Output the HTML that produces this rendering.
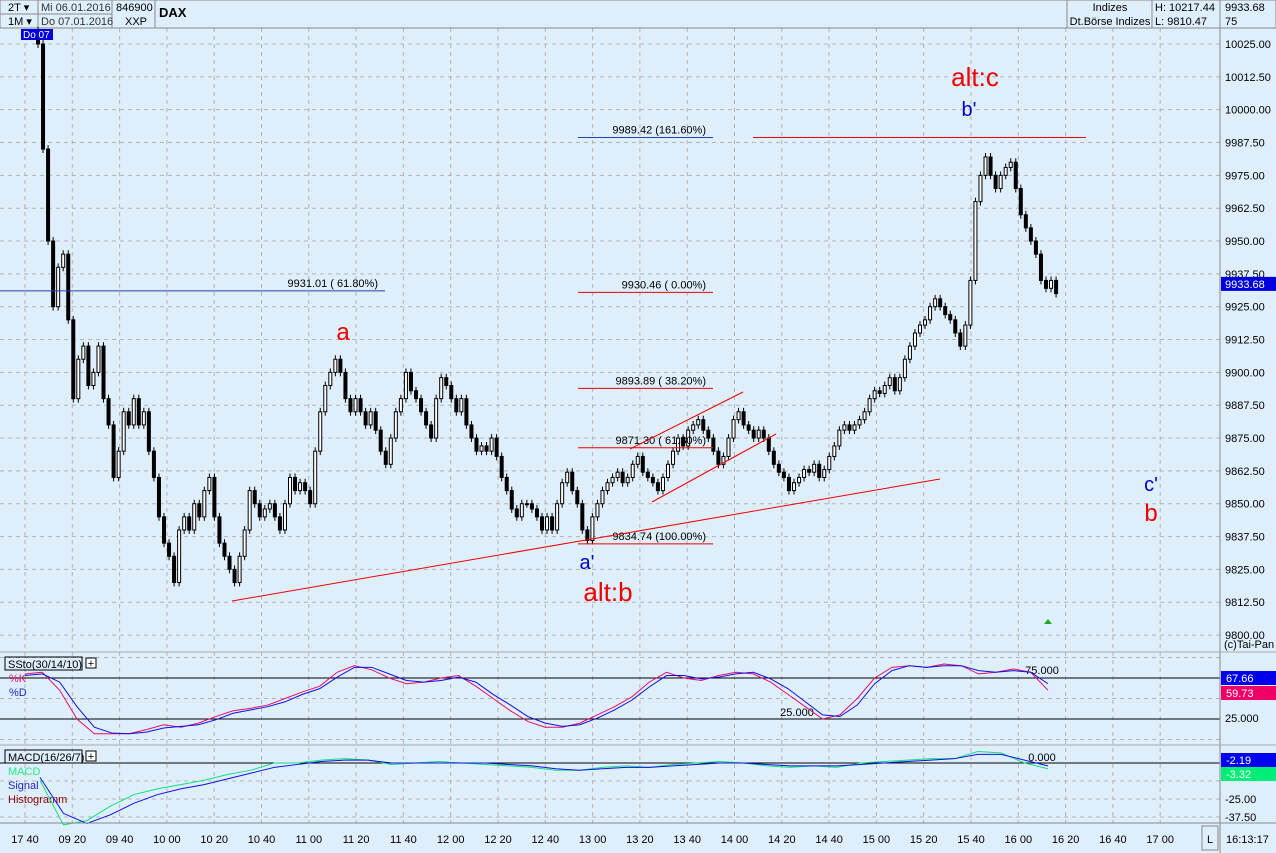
<!DOCTYPE html>
<html><head><meta charset="utf-8">
<style>
body{margin:0;width:1276px;height:853px;overflow:hidden;background:#dfeefb;font-family:"Liberation Sans",sans-serif;}
svg{position:absolute;left:0;top:0}
</style></head>
<body>
<svg id="chart" width="1276" height="853" font-family="Liberation Sans, sans-serif">
<rect x="0" y="0" width="1276" height="853" fill="#dfeefb"/>
<g id="grid"></g>
<g id="header">
 <rect x="0" y="0" width="1276" height="28" fill="#dfeefb" stroke="#888"/>
 <line x1="0" y1="14" x2="112" y2="14" stroke="#888"/>
 <line x1="38" y1="0" x2="38" y2="28" stroke="#888"/>
 <line x1="112" y1="0" x2="112" y2="28" stroke="#888"/>
 <line x1="155" y1="0" x2="155" y2="28" stroke="#888"/>
 <line x1="1067" y1="0" x2="1067" y2="28" stroke="#888"/>
 <line x1="1152" y1="0" x2="1152" y2="28" stroke="#888"/>
 <line x1="1220" y1="0" x2="1220" y2="28" stroke="#888"/>
 <text x="8" y="11" font-size="11">2T ▾</text>
 <text x="8" y="25" font-size="11">1M ▾</text>
 <text x="41" y="11" font-size="11" fill="#333">Mi 06.01.2016</text>
 <text x="41" y="25" font-size="11" fill="#333">Do 07.01.2016</text>
 <text x="116" y="11" font-size="11">846900</text>
 <text x="125" y="25" font-size="11">XXP</text>
 <text x="159" y="17" font-size="13" font-weight="bold">DAX</text>
 <text x="1110" y="11" font-size="11" text-anchor="middle">Indizes</text>
 <text x="1110" y="25" font-size="11" text-anchor="middle">Dt.Börse Indizes</text>
 <text x="1155" y="11" font-size="11">H: 10217.44</text>
 <text x="1155" y="25" font-size="11">L: 9810.47</text>
 <text x="1225" y="11" font-size="11">9933.68</text>
 <text x="1225" y="25" font-size="11">75</text>
</g>
<g id="price"></g>
<g id="annot"></g>
<g id="stoch"></g>
<g id="macd"></g>
<g id="axes"></g>
</svg>
<script>
// ---- data ----
const closes=[10025,9985,9950,9925,9940,9945,9920,9890,9905,9910,9895,9900,9910,9890,9880,9860,9870,9885,9880,9890,9880,9885,9870,9860,9845,9835,9830,9820,9840,9845,9840,9850,9845,9855,9860,9845,9835,9830,9825,9820,9830,9840,9855,9850,9845,9848,9850,9845,9840,9850,9860,9855,9858,9855,9850,9870,9885,9895,9900,9905,9900,9890,9885,9890,9885,9880,9885,9878,9870,9865,9875,9885,9890,9900,9893,9890,9885,9880,9875,9890,9898,9895,9890,9885,9890,9880,9875,9870,9872,9870,9875,9868,9860,9855,9848,9845,9850,9850,9848,9845,9840,9845,9840,9850,9858,9862,9855,9850,9840,9836,9845,9850,9855,9858,9860,9862,9858,9860,9865,9868,9862,9860,9858,9855,9860,9865,9870,9875,9872,9878,9880,9882,9878,9875,9870,9865,9868,9875,9882,9885,9880,9878,9875,9878,9875,9870,9865,9862,9860,9855,9858,9860,9863,9862,9865,9860,9863,9868,9872,9878,9880,9878,9880,9882,9885,9890,9893,9892,9895,9898,9893,9898,9905,9910,9915,9918,9920,9925,9928,9925,9922,9920,9915,9910,9918,9935,9965,9975,9982,9975,9970,9975,9978,9980,9970,9960,9955,9950,9945,9935,9932,9935,9930];
const priceTicks=[10025,10012.5,10000,9987.5,9975,9962.5,9950,9937.5,9925,9912.5,9900,9887.5,9875,9862.5,9850,9837.5,9825,9812.5,9800];
const timeLabels=["17 40","09 20","09 40","10 00","10 20","10 40","11 00","11 20","11 40","12 00","12 20","12 40","13 00","13 20","13 40","14 00","14 20","14 40","15 00","15 20","15 40","16 00","16 20","16 40","17 00"];
const stochK=[80,82,60,25,7,7,7,12,18,15,20,28,35,38,42,50,58,65,82,90,85,75,68,70,75,78,65,50,35,22,15,15,20,30,40,52,70,82,75,72,78,82,80,70,55,40,25,30,50,75,88,90,88,92,90,80,82,86,82,60];
const stochD=[78,80,70,40,15,8,7,9,14,16,18,24,32,36,40,46,55,62,76,88,88,80,72,70,72,76,70,55,42,28,20,16,18,26,36,48,64,78,78,74,76,80,82,74,62,46,30,28,42,68,84,90,88,90,90,84,82,84,82,68];
const macdV=[-12,-43,-40,-30,-22,-18,-15,-12,-8,-5,0,0,2,3,2,-1,0,1,0,-1,-2,-3,-5,-5,-3,-2,-3,-1,0,1,0,-2,-3,-2,-3,0,1,2,3,3,8,7,0,-4];
const macdS=[-10,-35,-42,-36,-28,-22,-18,-15,-11,-7,-3,-1,1,2,2,0,0,0,0,0,-1,-2,-4,-5,-4,-3,-3,-2,-1,0,0,-1,-2,-2,-2,-1,0,1,2,3,6,6,2,-2];
const ns="http://www.w3.org/2000/svg";
function mk(tag,attrs,parent,txt){const e=document.createElementNS(ns,tag);for(const k in attrs)e.setAttribute(k,attrs[k]);if(txt!==undefined)e.textContent=txt;parent.appendChild(e);return e;}
// ---- scales ----
const yP=p=>44+(10025-p)*2.627;
const xBar=i=>38+i*5.04;
const yS=v=>739.5-v*0.82;
const yM=v=>763-v*1.44;
const xInd=(i,n)=>25+i*(1023/(n-1));
const xT=i=>25+i*47.3;
const G=id=>document.getElementById(id);
// grid
const grid=G('grid');
timeLabels.forEach((t,i)=>{mk('line',{x1:xT(i),y1:28,x2:xT(i),y2:823,stroke:'#b4b4b4','stroke-dasharray':'4,4'},grid);});
priceTicks.forEach(p=>{mk('line',{x1:0,y1:yP(p),x2:1220,y2:yP(p),stroke:'#b4b4b4','stroke-dasharray':'4,4'},grid);});
[100,50,0].forEach(v=>mk('line',{x1:0,y1:yS(v),x2:1220,y2:yS(v),stroke:'#b4b4b4','stroke-dasharray':'4,4'},grid));
[-12.5,-25,-37.5].forEach(v=>mk('line',{x1:0,y1:yM(v),x2:1220,y2:yM(v),stroke:'#b4b4b4','stroke-dasharray':'4,4'},grid));
// axes frame
const ax=G('axes');
mk('line',{x1:1220,y1:28,x2:1220,y2:853,stroke:'#888'},ax);
mk('line',{x1:0,y1:652,x2:1276,y2:652,stroke:'#aaa'},ax);
mk('line',{x1:0,y1:745,x2:1276,y2:745,stroke:'#aaa'},ax);
mk('line',{x1:0,y1:823,x2:1276,y2:823,stroke:'#888'},ax);
priceTicks.forEach(p=>{const t=mk('text',{x:1225,y:yP(p)+4,'font-size':11},ax,p.toFixed(2));});
timeLabels.forEach((l,i)=>{const t=mk('text',{x:xT(i),y:843,'font-size':11,'text-anchor':'middle'},ax,l);});
mk('rect',{x:1202,y:826,width:16,height:24,fill:'#dfeefb',stroke:'#888'},ax);
mk('text',{x:1210,y:843,'font-size':11,'text-anchor':'middle'},ax,'L');
mk('text',{x:1226,y:843,'font-size':11},ax,'16:13:17');
mk('text',{x:1224,y:648,'font-size':11},ax,'(c)Tai-Pan');
mk('polygon',{points:'1044,624 1052,624 1048,619',fill:'#2a2'},ax);
// price candles
const pr=G('price');
closes.forEach((c,i)=>{
 const o=i?closes[i-1]:c+5, x=xBar(i);
 const hi=Math.max(o,c)+1.5, lo=Math.min(o,c)-1.5;
 const g=mk('g',{},pr);
 
 
 mk('line',{x1:x,y1:yP(hi),x2:x,y2:yP(lo),stroke:'#000'},g);
 const up=c>=o;
 mk('rect',{x:x-1.5,y:yP(Math.max(o,c)),width:3,height:Math.max(1,Math.abs(yP(o)-yP(c))),fill:up?'#fff':'#000',stroke:'#000','stroke-width':1},g);
});
// current price tag
mk('rect',{x:1221,y:yP(9933.68)-7,width:55,height:14,fill:'#0000dd'},ax);
mk('text',{x:1225,y:yP(9933.68)+4,'font-size':11,fill:'#fff'},ax,'9933.68');
mk('rect',{x:21,y:29,width:32,height:11,fill:'#0000dd'},ax);
mk('text',{x:23,y:38,'font-size':10,fill:'#fff'},ax,'Do 07');
// annotations
const an=G('annot');
mk('line',{x1:0,y1:yP(9931.01),x2:385,y2:yP(9931.01),stroke:'#2244aa'},an);
mk('text',{x:378,y:yP(9931.01)-4,'font-size':11,'text-anchor':'end'},an,'9931.01 ( 61.80%)');
const fib=[[9989.42,'9989.42 (161.60%)','#2244aa'],[9930.46,'9930.46 (  0.00%)','#e00'],[9893.89,'9893.89 ( 38.20%)','#e00'],[9871.30,'9871.30 ( 61.80%)','#e00'],[9834.74,'9834.74 (100.00%)','#e00']];
fib.forEach(f=>{mk('line',{x1:578,y1:yP(f[0]),x2:713,y2:yP(f[0]),stroke:f[2]},an);mk('text',{x:706,y:yP(f[0])-4,'font-size':11,'text-anchor':'end'},an,f[1]);});
mk('line',{x1:753,y1:yP(9989.42),x2:1086,y2:yP(9989.42),stroke:'#e00'},an);
mk('line',{x1:232,y1:601,x2:940,y2:479,stroke:'#e00'},an);
mk('line',{x1:630,y1:449,x2:743,y2:392,stroke:'#e00'},an);
mk('line',{x1:652,y1:502,x2:776,y2:434,stroke:'#e00'},an);
[['a',343,340,24,'#e00'],["a'",587,569,20,'#00c'],['alt:b',608,601,26,'#e00'],['alt:c',975,86,26,'#e00'],["b'",969,116,20,'#00c'],["c'",1151,491,20,'#00c'],['b',1151,521,24,'#e00']].forEach(a=>{const t=mk('text',{x:a[1],y:a[2],'font-size':a[3],fill:a[4],'text-anchor':'middle'},an,a[0]);});
// stochastic
const st=G('stoch');
mk('line',{x1:0,y1:yS(75),x2:1220,y2:yS(75),stroke:'#000'},st);
mk('line',{x1:0,y1:yS(25),x2:1220,y2:yS(25),stroke:'#000'},st);
mk('rect',{x:5,y:657,width:77,height:13,fill:'none',stroke:'#000'},st);
mk('text',{x:8,y:668,'font-size':11},st,'SSto(30/14/10)');
mk('rect',{x:86,y:658,width:10,height:10,fill:'#fff',stroke:'#000'},st);
mk('text',{x:91,y:667,'font-size':11,'text-anchor':'middle'},st,'+');
mk('text',{x:9,y:682,'font-size':11,fill:'#e0106a'},st,'%K');
mk('text',{x:9,y:696,'font-size':11,fill:'#22c'},st,'%D');
mk('text',{x:1042,y:674,'font-size':11,'text-anchor':'middle'},st,'75.000');
mk('text',{x:797,y:716,'font-size':11,'text-anchor':'middle'},st,'25.000');
mk('text',{x:1225,y:722,'font-size':11},st,'25.000');
const pk=stochK.map((v,i)=>xInd(i,stochK.length)+','+yS(v)).join(' ');
const pd=stochD.map((v,i)=>xInd(i,stochD.length)+','+yS(v)).join(' ');
mk('polyline',{points:pk,fill:'none',stroke:'#e0106a'},st);
mk('polyline',{points:pd,fill:'none',stroke:'#1010e0'},st);
mk('rect',{x:1221,y:671,width:55,height:14,fill:'#0000ee'},st);
mk('text',{x:1226,y:682,'font-size':11,fill:'#fff'},st,'67.66');
mk('rect',{x:1221,y:686,width:55,height:14,fill:'#ee0066'},st);
mk('text',{x:1226,y:697,'font-size':11,fill:'#fff'},st,'59.73');
// macd
const mc=G('macd');
mk('line',{x1:0,y1:yM(0),x2:1220,y2:yM(0),stroke:'#000'},mc);
mk('rect',{x:5,y:750,width:77,height:13,fill:'none',stroke:'#000'},mc);
mk('text',{x:8,y:761,'font-size':11},mc,'MACD(16/26/7)');
mk('rect',{x:86,y:751,width:10,height:10,fill:'#fff',stroke:'#000'},mc);
mk('text',{x:91,y:760,'font-size':11,'text-anchor':'middle'},mc,'+');
mk('text',{x:8,y:775,'font-size':11,fill:'#2e8'},mc,'MACD');
mk('text',{x:8,y:789,'font-size':11,fill:'#22c'},mc,'Signal');
mk('text',{x:8,y:803,'font-size':11,fill:'#800'},mc,'Histogramm');
mk('text',{x:1042,y:761,'font-size':11,'text-anchor':'middle'},mc,'0.000');
const xm=i=>40+i*(1008/(macdV.length-1));
mk('polyline',{points:macdV.map((v,i)=>xm(i)+','+yM(v)).join(' '),fill:'none',stroke:'#10e080'},mc);
mk('polyline',{points:macdS.map((v,i)=>xm(i)+','+yM(v)).join(' '),fill:'none',stroke:'#1010e0'},mc);
[-25,-37.5].forEach(v=>mk('text',{x:1225,y:yM(v)+4,'font-size':11},mc,v.toFixed(2)));
mk('rect',{x:1221,y:753,width:55,height:14,fill:'#0000ee'},mc);
mk('text',{x:1226,y:764,'font-size':11,fill:'#fff'},mc,'-2.19');
mk('rect',{x:1221,y:767,width:55,height:14,fill:'#00ee77'},mc);
mk('text',{x:1226,y:778,'font-size':11,fill:'#fff'},mc,'-3.32');
</script>
</body></html>
